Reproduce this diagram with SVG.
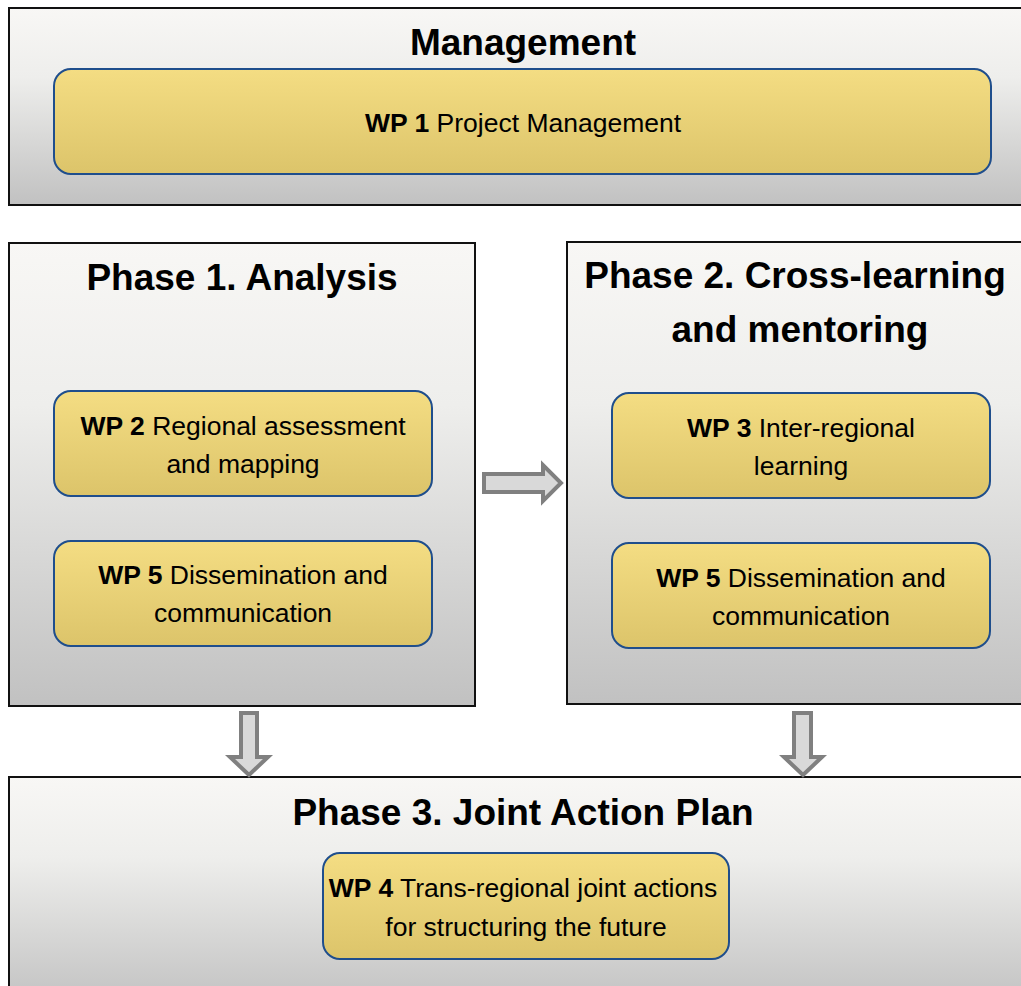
<svg xmlns="http://www.w3.org/2000/svg" width="1021" height="986" viewBox="0 0 1021 986">
<defs>
<linearGradient id="gOuter" x1="0" y1="0" x2="0" y2="1">
<stop offset="0" stop-color="#f8f7f5"/>
<stop offset="0.35" stop-color="#eeeeec"/>
<stop offset="1" stop-color="#c1c1c1"/>
</linearGradient>
<linearGradient id="gInner" x1="0" y1="0" x2="0" y2="1">
<stop offset="0" stop-color="#f4dd83"/>
<stop offset="1" stop-color="#dcc46a"/>
</linearGradient>
<style>
.outer{fill:url(#gOuter);stroke:#111;stroke-width:2}
.inner{fill:url(#gInner);stroke:#1f4e8c;stroke-width:2}
.title{font-family:"Liberation Sans",Arial,sans-serif;font-weight:bold;font-size:37px;fill:#000;text-anchor:middle}
.wp{font-family:"Liberation Sans",Arial,sans-serif;font-size:26.5px;fill:#000;text-anchor:middle}
.wp .b{font-weight:bold}
.arrow{fill:#d9d9d9;stroke:#808080;stroke-width:4;stroke-linejoin:miter}
</style>
</defs>
<rect width="1021" height="986" fill="#fff"/>

<g id="management">
<rect class="outer" x="9" y="8" width="1030" height="197"/>
<text class="title" x="523" y="55">Management</text>
</g>
<g id="wp1">
<rect class="inner" x="54" y="69" width="937" height="105" rx="17"/>
<text class="wp" x="523" y="132"><tspan class="b">WP 1</tspan> Project Management</text>
</g>

<g id="phase1">
<rect class="outer" x="9" y="243" width="466" height="463"/>
<text class="title" x="242" y="290">Phase 1. Analysis</text>
</g>
<g id="wp2">
<rect class="inner" x="54" y="391" width="378" height="105" rx="17"/>
<text class="wp" x="243" y="435"><tspan class="b">WP 2</tspan> Regional assessment</text>
<text class="wp" x="243" y="473">and mapping</text>
</g>
<g id="wp5a">
<rect class="inner" x="54" y="541" width="378" height="105" rx="17"/>
<text class="wp" x="243" y="584"><tspan class="b">WP 5</tspan> Dissemination and</text>
<text class="wp" x="243" y="622">communication</text>
</g>

<g id="phase2">
<rect class="outer" x="567" y="242" width="470" height="462"/>
<text class="title" x="795" y="288">Phase 2. Cross-learning</text>
<text class="title" x="800" y="342">and mentoring</text>
</g>
<g id="wp3">
<rect class="inner" x="612" y="393" width="378" height="105" rx="17"/>
<text class="wp" x="801" y="437"><tspan class="b">WP 3</tspan> Inter-regional</text>
<text class="wp" x="801" y="475">learning</text>
</g>
<g id="wp5b">
<rect class="inner" x="612" y="543" width="378" height="105" rx="17"/>
<text class="wp" x="801" y="587"><tspan class="b">WP 5</tspan> Dissemination and</text>
<text class="wp" x="801" y="625">communication</text>
</g>

<g id="phase3">
<rect class="outer" x="9" y="777" width="1030" height="230"/>
<text class="title" x="523" y="825">Phase 3. Joint Action Plan</text>
</g>
<g id="wp4">
<rect class="inner" x="323" y="853" width="406" height="106" rx="17"/>
<text class="wp" x="523" y="897"><tspan class="b">WP 4</tspan> Trans-regional joint actions</text>
<text class="wp" x="526" y="936">for structuring the future</text>
</g>

<g id="connectors">
<path class="arrow" d="M484,474 H543 V465 L561,483 L543,501 V492 H484 Z"/>
<path class="arrow" d="M241,713 H257 V757 H268 L249,775 L230,757 H241 Z"/>
<path class="arrow" d="M794,713 H811 V757 H822 L803,775 L784,757 H794 Z"/>
</g>
</svg>
